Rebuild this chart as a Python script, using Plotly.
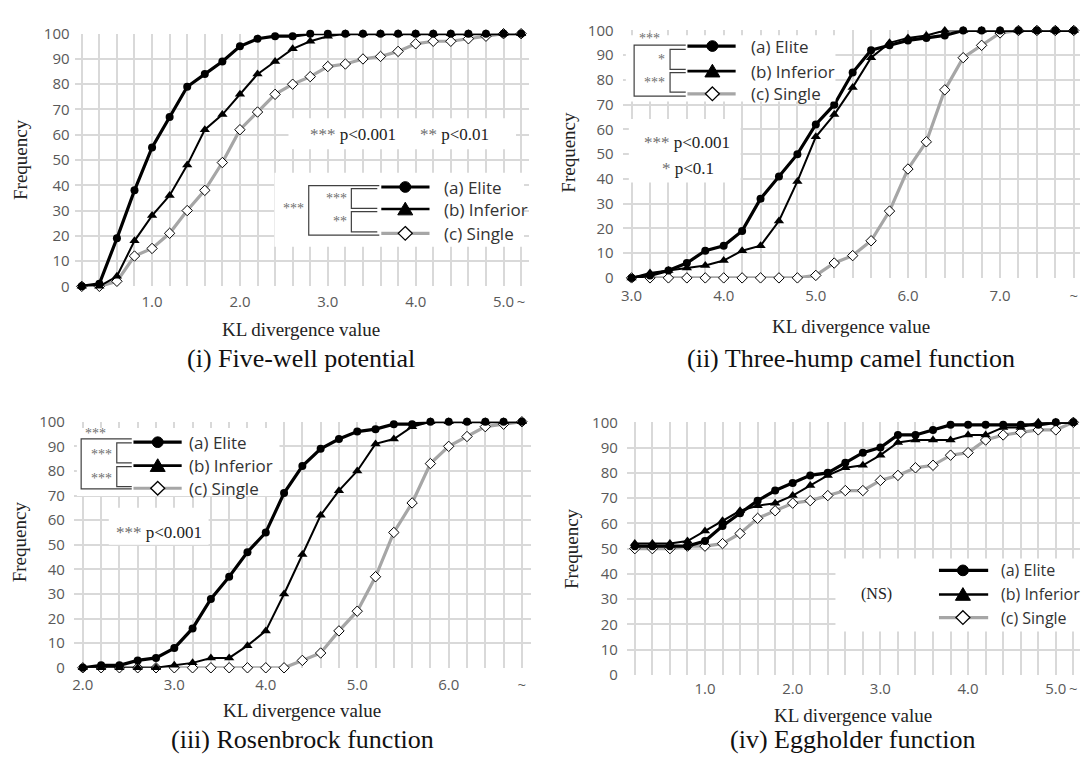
import plotly.graph_objects as go

W, H = 1082, 770

# ---------------- data ----------------
# (i) Five-well potential
kl_i = ["0.2", "0.4", "0.6", "0.8", "1.0", "1.2", "1.4", "1.6", "1.8", "2.0",
        "2.2", "2.4", "2.6", "2.8", "3.0", "3.2", "3.4", "3.6", "3.8", "4.0",
        "4.2", "4.4", "4.6", "4.8", "5.0", "~"]
elite_i = [0, 1, 19, 38, 55, 67, 79, 84, 89, 95, 98, 99, 99, 100, 100, 100, 100,
           100, 100, 100, 100, 100, 100, 100, 100, 100]
inferior_i = [0, 0, 4, 18, 28, 36, 48, 62, 68, 76, 84, 89, 94, 97, 99, 100, 100,
              100, 100, 100, 100, 100, 100, 100, 100, 100]
single_i = [0, 0, 2, 12, 15, 21, 30, 38, 49, 62, 69, 76, 80, 83, 87, 88, 90, 91,
            93, 96, 97, 97, 98, 99, 100, 100]
ticks_i = ["1.0", "2.0", "3.0", "4.0", "5.0", "~"]

# (ii) Three-hump camel function
kl_ii = ["3.0", "3.2", "3.4", "3.6", "3.8", "4.0", "4.2", "4.4", "4.6", "4.8",
         "5.0", "5.2", "5.4", "5.6", "5.8", "6.0", "6.2", "6.4", "6.6", "6.8",
         "7.0", "7.2", "7.4", "7.6", "~"]
elite_ii = [0, 1, 3, 6, 11, 13, 19, 32, 41, 50, 62, 70, 83, 92, 94, 96, 97, 98,
            100, 100, 100, 100, 100, 100, 100]
inferior_ii = [0, 2, 3, 4, 5, 7, 11, 13, 23, 39, 57, 66, 77, 89, 95, 97, 98, 100,
               100, 100, 100, 100, 100, 100, 100]
single_ii = [0, 0, 0, 0, 0, 0, 0, 0, 0, 0, 1, 6, 9, 15, 27, 44, 55, 76, 89, 94,
             99, 100, 100, 100, 100]
ticks_ii = ["3.0", "4.0", "5.0", "6.0", "7.0", "~"]

# (iii) Rosenbrock function
kl_iii = ["2.0", "2.2", "2.4", "2.6", "2.8", "3.0", "3.2", "3.4", "3.6", "3.8",
          "4.0", "4.2", "4.4", "4.6", "4.8", "5.0", "5.2", "5.4", "5.6", "5.8",
          "6.0", "6.2", "6.4", "6.6", "~"]
elite_iii = [0, 1, 1, 3, 4, 8, 16, 28, 37, 47, 55, 71, 82, 89, 93, 96, 97, 99, 99,
             100, 100, 100, 100, 100, 100]
inferior_iii = [0, 0, 0, 0, 0, 1, 2, 4, 4, 9, 15, 30, 46, 62, 72, 80, 91, 93, 98,
                100, 100, 100, 100, 100, 100]
single_iii = [0, 0, 0, 0, 0, 0, 0, 0, 0, 0, 0, 0, 3, 6, 15, 23, 37, 55, 67, 83,
              90, 94, 98, 99, 100]
ticks_iii = ["2.0", "3.0", "4.0", "5.0", "6.0", "~"]

# (iv) Eggholder function
kl_iv = list(kl_i)
elite_iv = [51, 51, 51, 51, 53, 59, 64, 69, 73, 76, 79, 80, 84, 88, 90, 95, 95, 97,
            99, 99, 99, 99, 99, 99, 100, 100]
inferior_iv = [52, 52, 52, 53, 57, 61, 65, 67, 68, 71, 75, 79, 82, 83, 87, 92, 93,
               93, 93, 95, 95, 98, 98, 100, 100, 100]
single_iv = [50, 50, 50, 51, 51, 52, 56, 62, 65, 68, 69, 71, 73, 73, 77, 79, 82,
             83, 87, 88, 93, 95, 96, 97, 97, 100]
ticks_iv = list(ticks_i)

series_names = ["(a) Elite", "(b) Inferior", "(c) Single"]

# ---------------- helpers ----------------
def px(x):
    return x / W


def py(y):
    return 1 - y / H


SERIF = "Liberation Serif"
SANS = "Open Sans"
GRID = "#d9d9d9"

STYLE = {
    "single": dict(line=dict(color="#a6a6a6", width=3.2),
                   marker=dict(symbol="diamond", size=8, color="white",
                               line=dict(color="black", width=1))),
    "inferior": dict(line=dict(color="black", width=2),
                     marker=dict(symbol="triangle-up", size=9, color="black")),
    "elite": dict(line=dict(color="black", width=3.2),
                  marker=dict(symbol="circle", size=8, color="black")),
}

# panel layout: pixel box of the plotting area and category range
panels = [
    dict(sfx="", cats=kl_i, e=elite_i, b=inferior_i, s=single_i, ticks=ticks_i,
         box=(72.7, 23.3, 528, 282.7), xr=(-0.41, 25.45), ystand=4, xstand=5),
    dict(sfx="2", cats=kl_ii, e=elite_ii, b=inferior_ii, s=single_ii, ticks=ticks_ii,
         box=(621.7, 20, 1080, 274), xr=(-0.49, 24.34), ystand=8, xstand=7),
    dict(sfx="3", cats=kl_iii, e=elite_iii, b=inferior_iii, s=single_iii, ticks=ticks_iii,
         box=(72, 421.7, 530, 674.3), xr=(-0.49, 24.5), ystand=8, xstand=6),
    dict(sfx="4", cats=kl_iv, e=elite_iv, b=inferior_iv, s=single_iv, ticks=ticks_iv,
         box=(626, 422.3, 1080, 681.7), xr=(-0.455, 25.38), ystand=8, xstand=3),
]

fig = go.Figure()
layout = dict(width=W, height=H, margin=dict(l=0, r=0, t=0, b=0),
              paper_bgcolor="white", plot_bgcolor="white", showlegend=False)

for p in panels:
    s = p["sfx"]
    for key, ys in (("single", p["s"]), ("inferior", p["b"]), ("elite", p["e"])):
        fig.add_trace(go.Scatter(x=p["cats"], y=ys, mode="lines+markers",
                                 xaxis="x" + s, yaxis="y" + s, cliponaxis=False,
                                 hoverinfo="skip", **STYLE[key]))
    x0, y0, x1, y1 = p["box"]
    ticktext = [c if c in p["ticks"] else "" for c in p["cats"]]
    layout["xaxis" + s] = dict(
        domain=[px(x0), px(x1)], anchor="y" + s, type="category",
        range=list(p["xr"]), tickmode="array", tickvals=p["cats"], ticktext=ticktext,
        showgrid=True, gridcolor=GRID, gridwidth=1.5, zeroline=False, showline=False,
        ticks="", ticklabelstandoff=p["xstand"],
        tickfont=dict(family=SANS, size=15, color="#595959"))
    layout["yaxis" + s] = dict(
        domain=[py(y1), py(y0)], anchor="x" + s, range=[0, 100], tick0=0, dtick=10,
        showgrid=True, gridcolor=GRID, gridwidth=1.5, zeroline=False, showline=False,
        ticks="", ticklabelstandoff=p["ystand"],
        tickfont=dict(family=SANS, size=15, color="#595959"))

shapes = []
annotations = []


def white_box(x0, y0, x1, y1):
    shapes.append(dict(type="rect", xref="paper", yref="paper", layer="above",
                       x0=px(x0), x1=px(x1), y0=py(y1), y1=py(y0),
                       fillcolor="white", line=dict(width=0)))


def path(points, color="#404040", width=1.2):
    d = "M " + " L ".join(f"{px(x):.5f},{py(y):.5f}" for x, y in points)
    shapes.append(dict(type="path", xref="paper", yref="paper", layer="above",
                       path=d, line=dict(color=color, width=width)))


def text(x, y, t, size=15, family=SANS, color="#404040", xanchor="center", angle=0):
    annotations.append(dict(x=px(x), y=py(y), xref="paper", yref="paper", text=t,
                            showarrow=False, xanchor=xanchor, yanchor="middle",
                            textangle=angle,
                            font=dict(family=family, size=size, color=color)))


def legend_block(xl0, xl1, xm, rows, xt, fsize=17):
    kinds = ["elite", "inferior", "single"]
    for kind, y, name in zip(kinds, rows, series_names):
        st = STYLE[kind]
        lw = st["line"]["width"] if kind != "inferior" else 2.6
        path([(xl0, y), (xl1, y)], color=st["line"]["color"], width=lw)
        if kind == "elite":
            r = 5.5
            shapes.append(dict(type="circle", xref="paper", yref="paper", layer="above",
                               x0=px(xm - r), x1=px(xm + r), y0=py(y + r), y1=py(y - r),
                               fillcolor="black", line=dict(color="black", width=1)))
        elif kind == "inferior":
            pts = [(xm - 7.5, y + 6), (xm + 7.5, y + 6), (xm, y - 7)]
            d = "M " + " L ".join(f"{px(a):.5f},{py(b):.5f}" for a, b in pts) + " Z"
            shapes.append(dict(type="path", xref="paper", yref="paper", layer="above",
                               path=d, fillcolor="black", line=dict(color="black", width=1)))
        else:
            pts = [(xm, y - 7), (xm + 7, y), (xm, y + 7), (xm - 7, y)]
            d = "M " + " L ".join(f"{px(a):.5f},{py(b):.5f}" for a, b in pts) + " Z"
            shapes.append(dict(type="path", xref="paper", yref="paper", layer="above",
                               path=d, fillcolor="white", line=dict(color="black", width=1.3)))
        text(xt, y, name, size=fsize, xanchor="left", color="#333")


STAR = "<span style='color:#6e6e6e'>{}</span>"

# ---- (i) annotations, significance brackets and legend ----
white_box(287, 110, 515, 142)
text(352, 127, STAR.format("***") + " p&lt;0.001", size=17, family=SERIF, color="#222")
text(453, 127, STAR.format("**") + " p&lt;0.01", size=17, family=SERIF, color="#222")
white_box(273, 166, 523, 242)
path([(378, 179.3), (307.3, 179.3), (307.3, 230), (378, 230)])
path([(376, 182.3), (350, 182.3), (350, 202.7), (376, 202.7)])
path([(376, 206), (350, 206), (350, 226.7), (376, 226.7)])
text(291.7, 203, "***", size=14, family=SERIF, color="#6e6e6e")
text(348, 193, "***", size=14, family=SERIF, color="#6e6e6e", xanchor="right")
text(348, 216, "**", size=14, family=SERIF, color="#6e6e6e", xanchor="right")
legend_block(380, 428.3, 404, [180.7, 203.3, 228.3], 440.7)

# ---- (ii) ----
white_box(625, 25, 835, 93)
path([(685, 35), (633.3, 35), (633.3, 87.3), (685, 87.3)])
path([(685, 39.3), (669.3, 39.3), (669.3, 60), (685, 60)])
path([(685, 63.3), (669.3, 63.3), (669.3, 83.3), (685, 83.3)])
text(649, 28, "***", size=14, family=SERIF, color="#6e6e6e")
text(666, 50, "*", size=14, family=SERIF, color="#6e6e6e", xanchor="right")
text(666, 73, "***", size=14, family=SERIF, color="#6e6e6e", xanchor="right")
legend_block(686.7, 735, 711.7, [36, 61.7, 85], 748.3)
white_box(628, 111, 740, 176)
text(686, 135, STAR.format("***") + " p&lt;0.001", size=17, family=SERIF, color="#222")
text(687, 162, STAR.format("*") + " p&lt;0.1", size=17, family=SERIF, color="#222")

# ---- (iii) ----
white_box(75, 428, 278, 498)
path([(130, 439.3), (79.3, 439.3), (79.3, 490.7), (130, 490.7)])
path([(130, 443.3), (115, 443.3), (115, 464), (130, 464)])
path([(130, 467.7), (115, 467.7), (115, 488.3), (130, 488.3)])
text(94, 434, "***", size=14, family=SERIF, color="#6e6e6e")
text(112, 455, "***", size=14, family=SERIF, color="#6e6e6e", xanchor="right")
text(112, 480, "***", size=14, family=SERIF, color="#6e6e6e", xanchor="right")
legend_block(131.7, 180, 156, [442.7, 466.7, 490], 185)
white_box(107, 510, 207, 548)
text(157, 535, STAR.format("***") + " p&lt;0.001", size=17, family=SERIF, color="#222")

# ---- (iv) ----
white_box(835, 562, 1082, 637)
text(876, 599, "(NS)", size=16, family=SERIF, color="#222")
legend_block(938.7, 988, 962.7, [574.3, 599, 622.7], 998.5, fsize=16)

# ---- axis titles and panel captions ----
for xc, yc in ((18, 152), (567.5, 145), (17.5, 545), (570.5, 552)):
    text(xc, yc, "Frequency", size=19, family=SERIF, color="#222", angle=-90)
for xc, yc in ((300, 327), (851, 324), (301, 718), (853, 723)):
    text(xc, yc, "KL divergence value", size=19, family=SERIF, color="#222")
captions = [("(i) Five-well potential", 300, 357), ("(ii) Three-hump camel function", 851, 357),
            ("(iii) Rosenbrock function", 301, 748), ("(iv) Eggholder function", 853, 748)]
for t, xc, yc in captions:
    text(xc, yc, t, size=26, family=SERIF, color="#111")

layout["shapes"] = shapes
layout["annotations"] = annotations
fig.update_layout(**layout)
fig.write_html("out.html")
